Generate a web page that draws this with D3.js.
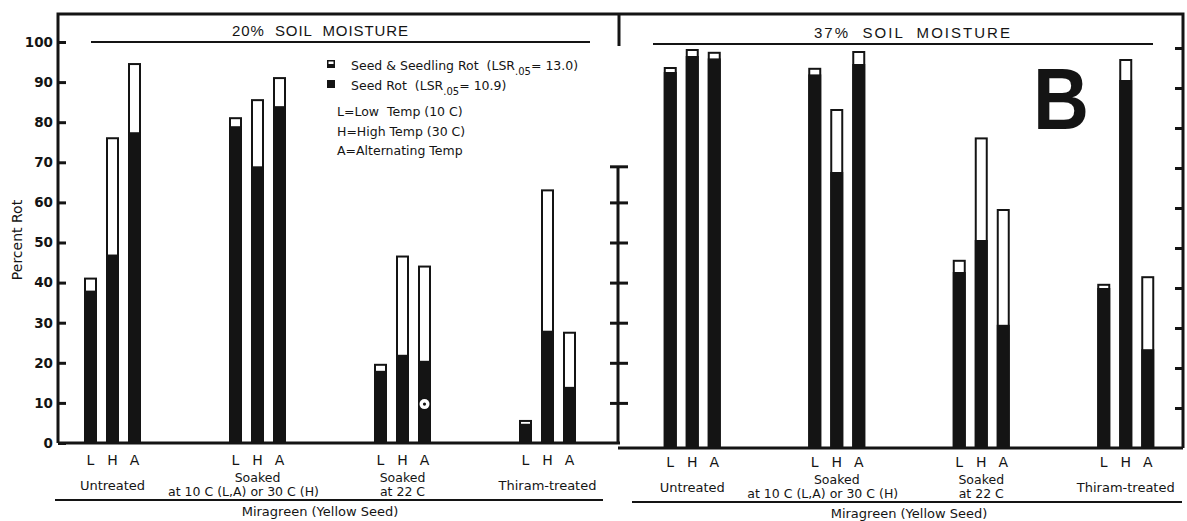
<!DOCTYPE html>
<html>
<head>
<meta charset="utf-8">
<script src="https://cdn.jsdelivr.net/npm/d3@7"></script>
<style>
body { margin: 0; background: #fff; }
svg { display: block; }
text { fill: #141414; }
</style>
</head>
<body>
<svg width="1187" height="521"></svg>
<script>
// treatment groups and temperature regimes
const groups = ["Untreated", "Soaked10", "Soaked22", "Thiram"];
const temps = ["L", "H", "A"];
const groupLines = [
	["Untreated"],
	["Soaked", "at 10 C (L,A) or 30 C (H)"],
	["Soaked", "at 22 C"],
	["Thiram-treated"]
];

// percent rot, order: group x temp (L, H, A)
// total = seed & seedling rot, seed = seed rot
const total20 = [41, 76, 94.5, 81, 85.5, 91, 19.5, 46.5, 44, 5.5, 63, 27.5];
const seed20 = [38, 47, 77.5, 79, 69, 84, 18, 22, 20.5, 4.8, 28, 14];
const total37 = [95, 99.5, 98.8, 94.8, 84.5, 99, 46.8, 77.4, 59.5, 40.8, 97, 42.7];
const seed37 = [94, 98, 97.4, 93.4, 69, 96, 44, 52, 30.8, 40, 92, 24.7];

const yTicks = [0, 10, 20, 30, 40, 50, 60, 70, 80, 90, 100];
const scaleBarTicks = [10, 20, 30, 40, 50, 60];
const scaleBarTop = 69;

const ink = "#141414";
const labelFont = "'DejaVu Sans', sans-serif";
const headFont = "'Liberation Sans', Arial, sans-serif";

let svg = d3.select("svg");

let panels = [
	{title: "20%  SOIL  MOISTURE", total: total20, seed: seed20,
		x0: 40, x1: 620, base: 443, top: 42, labelBase: 443,
		titleX: 320, titleY: 31, titleW: 176,
		rule: [91, 590], ruleY: 42, botRule: [55, 603], seedX: 320},
	{title: "37%  SOIL  MOISTURE", total: total37, seed: seed37,
		x0: 620, x1: 1198, base: 448, top: 48, labelBase: 445,
		titleX: 912, titleY: 33, titleW: 196,
		rule: [653, 1153], ruleY: 44, botRule: [632, 1182], seedX: 909}
];

let inner = d3.scalePoint().domain(temps).range([-22, 22]);

panels.forEach(function (p) {
	p.x = d3.scaleBand().domain(groups).range([p.x0, p.x1]);
	p.y = d3.scaleLinear().domain([0, 100]).range([p.base, p.top]);
});

// frame
let L = panels[0], R = panels[1];
let frame = svg.append("g")
	.attr("fill", "none")
	.attr("stroke", ink)
	.attr("stroke-width", 3);
frame.append("path")
	.attr("d", "M58," + L.base + "V14H1183V" + R.base);
frame.append("line").attr("x1", 58).attr("x2", 620).attr("y1", L.base).attr("y2", L.base);
frame.append("line").attr("x1", 618).attr("x2", 1183).attr("y1", R.base).attr("y2", R.base);
frame.append("line").attr("x1", 619).attr("x2", 619).attr("y1", 14).attr("y2", 46);

// left y axis
let yAxis = svg.append("g")
	.attr("transform", "translate(58,0)")
	.call(d3.axisLeft(L.y).tickValues(yTicks).tickSize(-8).tickPadding(5));
yAxis.select(".domain").remove();
yAxis.selectAll(".tick line").attr("stroke", ink).attr("stroke-width", 3);
yAxis.selectAll(".tick text")
	.style("font-family", labelFont)
	.style("font-size", "13.5px")
	.style("font-weight", "bold")
	.attr("fill", ink);

// right border ticks
let rAxis = svg.append("g")
	.attr("transform", "translate(1183,0)")
	.call(d3.axisLeft(R.y).tickValues(yTicks.slice(1)).tickSize(8).tickFormat(""));
rAxis.select(".domain").remove();
rAxis.selectAll(".tick line").attr("stroke", ink).attr("stroke-width", 3);

// middle scale bar
svg.append("line")
	.attr("x1", 618).attr("x2", 618)
	.attr("y1", L.y(0)).attr("y2", L.y(scaleBarTop))
	.attr("stroke", ink).attr("stroke-width", 3);
let mAxis = svg.append("g")
	.attr("transform", "translate(628,0)")
	.call(d3.axisLeft(L.y).tickValues(scaleBarTicks.concat([scaleBarTop])).tickSize(18).tickFormat(""));
mAxis.select(".domain").remove();
mAxis.selectAll(".tick line").attr("stroke", ink).attr("stroke-width", 3);

// y label
svg.append("text")
	.attr("transform", "translate(22,240) rotate(-90)")
	.attr("text-anchor", "middle")
	.style("font-family", labelFont)
	.style("font-size", "14px")
	.text("Percent Rot");

panels.forEach(function (p) {
	let g = svg.append("g");
	let lb = p.labelBase;

	// title
	g.append("text")
		.attr("x", p.titleX - p.titleW / 2).attr("y", p.titleY)
		.attr("dy", "0.35em")
		.attr("textLength", p.titleW)
		.attr("lengthAdjust", "spacing")
		.style("font-family", headFont)
		.style("font-size", "15px")
		.style("white-space", "pre")
		.text(p.title);
	g.append("line")
		.attr("x1", p.rule[0]).attr("x2", p.rule[1])
		.attr("y1", p.ruleY).attr("y2", p.ruleY)
		.attr("stroke", ink).attr("stroke-width", 2);

	let rows = p.total.map(function (t, i) {
		return {group: groups[Math.floor(i / 3)], temp: temps[i % 3], total: t, seed: p.seed[i]};
	});
	let cx = function (d) {
		return p.x(d.group) + p.x.bandwidth() / 2 + inner(d.temp);
	};

	// seed & seedling rot (open)
	g.selectAll("rect.total")
		.data(rows)
		.enter().append("rect")
		.attr("class", "total")
		.attr("x", function (d) { return cx(d) - 5.5; })
		.attr("y", function (d) { return p.y(d.total); })
		.attr("width", 11)
		.attr("height", function (d) { return p.base - p.y(d.total); })
		.attr("fill", "#fff")
		.attr("stroke", ink)
		.attr("stroke-width", 2);

	// seed rot (solid)
	g.selectAll("rect.seed")
		.data(rows)
		.enter().append("rect")
		.attr("class", "seed")
		.attr("x", function (d) { return cx(d) - 6.5; })
		.attr("y", function (d) { return p.y(d.seed); })
		.attr("width", 13)
		.attr("height", function (d) { return p.base - p.y(d.seed); })
		.attr("fill", ink);

	// L H A
	g.selectAll("text.temp")
		.data(rows)
		.enter().append("text")
		.attr("class", "temp")
		.attr("x", cx)
		.attr("y", lb + 17)
		.attr("dy", "0.35em")
		.attr("text-anchor", "middle")
		.style("font-family", labelFont)
		.style("font-size", "14px")
		.text(function (d) { return d.temp; });

	// group names
	groups.forEach(function (grp, gi) {
		let lines = groupLines[gi];
		let mid = p.x(grp) + p.x.bandwidth() / 2;
		lines.forEach(function (s, li) {
			let yy = lines.length === 1 ? lb + 42 : lb + 35 + li * 13.5;
			let shift = (gi === 1 && li === 1) ? -14 : 0;
			g.append("text")
				.attr("x", mid + shift)
				.attr("y", yy)
				.attr("dy", "0.35em")
				.attr("text-anchor", "middle")
				.style("font-family", labelFont)
				.style("font-size", lines.length === 1 ? "13px" : "12.5px")
				.text(s);
		});
	});

	g.append("line")
		.attr("x1", p.botRule[0]).attr("x2", p.botRule[1])
		.attr("y1", lb + 57).attr("y2", lb + 57)
		.attr("stroke", ink).attr("stroke-width", 2);
	g.append("text")
		.attr("x", p.seedX).attr("y", lb + 68)
		.attr("dy", "0.35em")
		.attr("text-anchor", "middle")
		.style("font-family", labelFont)
		.style("font-size", "13px")
		.text("Miragreen (Yellow Seed)");
});

// small circled mark on the 22 C alternating bar
let markX = L.x("Soaked22") + L.x.bandwidth() / 2 + inner("A");
svg.append("circle").attr("cx", markX).attr("cy", L.y(9.7)).attr("r", 5).attr("fill", "#fff");
svg.append("circle").attr("cx", markX).attr("cy", L.y(9.7)).attr("r", 1.6).attr("fill", ink);

// legend
let legend = svg.append("g")
	.style("font-family", labelFont)
	.style("font-size", "12.5px");
let legendRows = [
	{label: "Seed & Seedling Rot  (LSR", lsr: "= 13.0)", y: 66, open: true},
	{label: "Seed Rot  (LSR", lsr: "= 10.9)", y: 86, open: false}
];
legendRows.forEach(function (r) {
	legend.append("rect")
		.attr("x", 327).attr("y", r.y - 6)
		.attr("width", 8).attr("height", 8)
		.attr("fill", ink);
	if (r.open) {
		legend.append("rect")
			.attr("x", 328.5).attr("y", r.y - 4.5)
			.attr("width", 5).attr("height", 2.5)
			.attr("fill", "#fff");
	}
	let t = legend.append("text")
		.attr("x", 351).attr("y", r.y)
		.attr("dy", "0.35em")
		.style("white-space", "pre");
	t.append("tspan").text(r.label);
	t.append("tspan").attr("dy", 5).style("font-size", "10px").text(".05");
	t.append("tspan").attr("dy", -5).text(r.lsr);
});
let notes = ["L=Low  Temp (10 C)", "H=High Temp (30 C)", "A=Alternating Temp"];
notes.forEach(function (s, i) {
	legend.append("text")
		.attr("x", 337).attr("y", 112 + i * 19.5)
		.attr("dy", "0.35em")
		.style("white-space", "pre")
		.text(s);
});

// panel letter
svg.append("text")
	.attr("x", 1033).attr("y", 129)
	.attr("textLength", 56)
	.attr("lengthAdjust", "spacingAndGlyphs")
	.style("font-family", headFont)
	.style("font-weight", "bold")
	.style("font-size", "88px")
	.text("B");
</script>
</body>
</html>
